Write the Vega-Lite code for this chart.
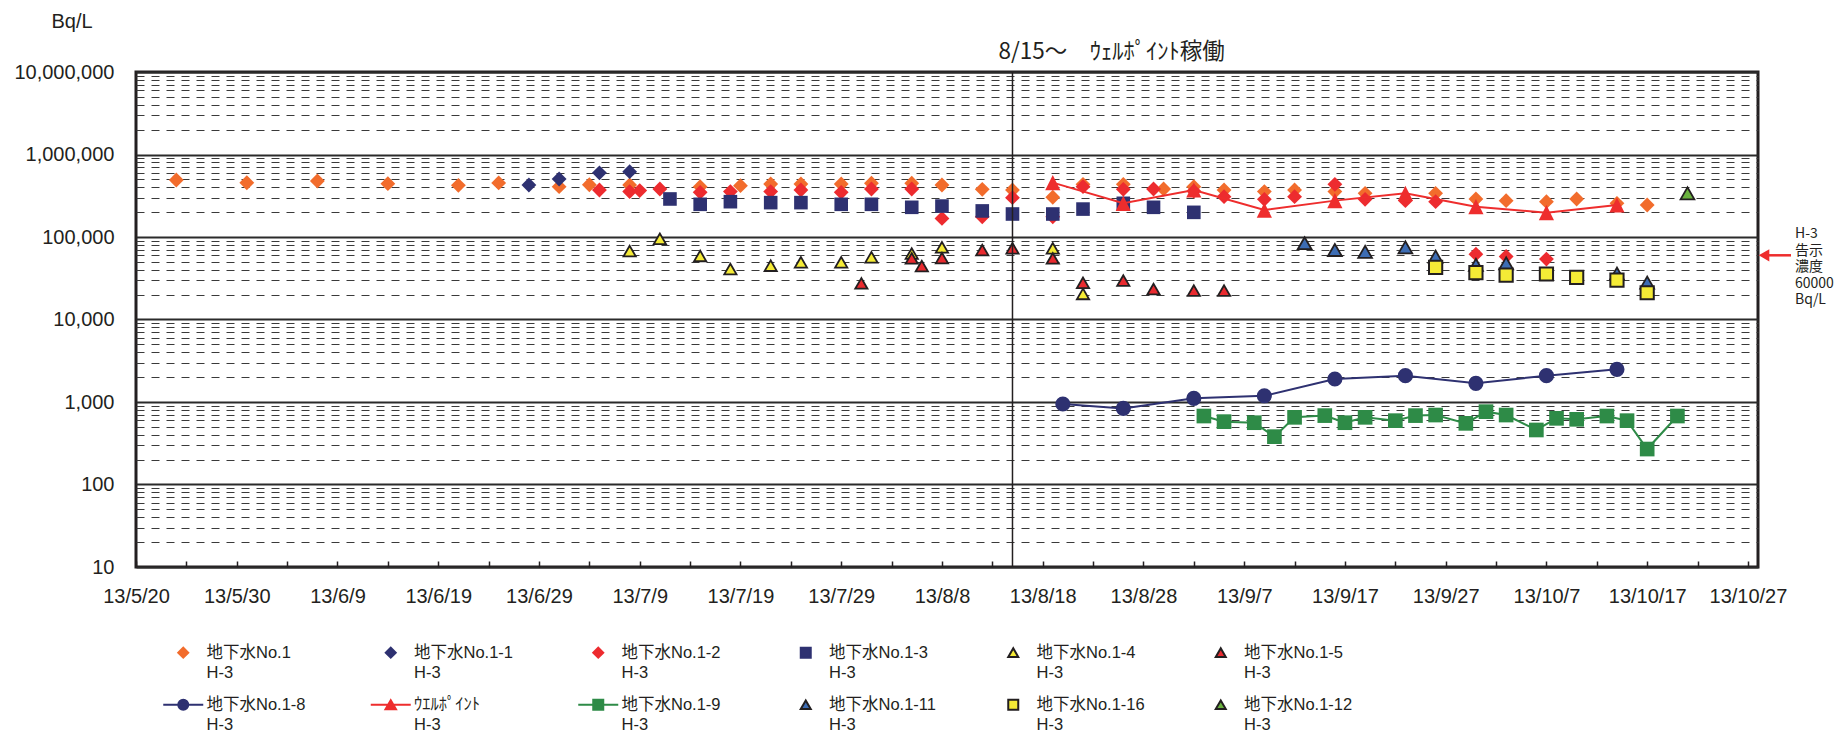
{
  "$schema": "https://vega.github.io/schema/vega-lite/v6.json",
  "autosize": "none",
  "width": 1622,
  "height": 495,
  "padding": {"left": 136, "top": 72, "right": 79, "bottom": 168},
  "background": "white",
  "config": {
    "view": {"stroke": "#231F20", "strokeWidth": 3},
    "axis": {"labelFont": "Liberation Sans", "titleFont": "Liberation Sans", "labelColor": "#231F20", "titleColor": "#231F20"},
    "style": {"guide-label": {"lineHeight": 20.5}}
  },
  "datasets": {
    "main": [
      {"s":"地下水No.1","d":"2013-05-24","v":491000},
      {"s":"地下水No.1","d":"2013-05-31","v":455000},
      {"s":"地下水No.1","d":"2013-06-07","v":477000},
      {"s":"地下水No.1","d":"2013-06-14","v":443000},
      {"s":"地下水No.1","d":"2013-06-21","v":423000},
      {"s":"地下水No.1","d":"2013-06-25","v":452000},
      {"s":"地下水No.1","d":"2013-07-01","v":407000},
      {"s":"地下水No.1","d":"2013-07-04","v":430000},
      {"s":"地下水No.1","d":"2013-07-08","v":427000},
      {"s":"地下水No.1","d":"2013-07-15","v":407000},
      {"s":"地下水No.1","d":"2013-07-19","v":419000},
      {"s":"地下水No.1","d":"2013-07-22","v":439000},
      {"s":"地下水No.1","d":"2013-07-25","v":439000},
      {"s":"地下水No.1","d":"2013-07-29","v":439000},
      {"s":"地下水No.1","d":"2013-08-01","v":448000},
      {"s":"地下水No.1","d":"2013-08-05","v":448000},
      {"s":"地下水No.1","d":"2013-08-08","v":427000},
      {"s":"地下水No.1","d":"2013-08-12","v":378000},
      {"s":"地下水No.1","d":"2013-08-15","v":371000},
      {"s":"地下水No.1","d":"2013-08-19","v":303000},
      {"s":"地下水No.1","d":"2013-08-22","v":435000},
      {"s":"地下水No.1","d":"2013-08-26","v":435000},
      {"s":"地下水No.1","d":"2013-08-30","v":382000},
      {"s":"地下水No.1","d":"2013-09-02","v":407000},
      {"s":"地下水No.1","d":"2013-09-05","v":371000},
      {"s":"地下水No.1","d":"2013-09-09","v":355000},
      {"s":"地下水No.1","d":"2013-09-12","v":371000},
      {"s":"地下水No.1","d":"2013-09-16","v":355000},
      {"s":"地下水No.1","d":"2013-09-19","v":338000},
      {"s":"地下水No.1","d":"2013-09-26","v":338000},
      {"s":"地下水No.1","d":"2013-09-30","v":289000},
      {"s":"地下水No.1","d":"2013-10-03","v":276000},
      {"s":"地下水No.1","d":"2013-10-07","v":268000},
      {"s":"地下水No.1","d":"2013-10-10","v":289000},
      {"s":"地下水No.1","d":"2013-10-14","v":256000},
      {"s":"地下水No.1","d":"2013-10-17","v":244000},
      {"s":"地下水No.1-1","d":"2013-06-28","v":427000},
      {"s":"地下水No.1-1","d":"2013-07-01","v":505000},
      {"s":"地下水No.1-1","d":"2013-07-05","v":600000},
      {"s":"地下水No.1-1","d":"2013-07-08","v":619000},
      {"s":"地下水No.1-2","d":"2013-07-05","v":371000},
      {"s":"地下水No.1-2","d":"2013-07-08","v":355000},
      {"s":"地下水No.1-2","d":"2013-07-09","v":365000},
      {"s":"地下水No.1-2","d":"2013-07-11","v":382000},
      {"s":"地下水No.1-2","d":"2013-07-15","v":348000},
      {"s":"地下水No.1-2","d":"2013-07-18","v":355000},
      {"s":"地下水No.1-2","d":"2013-07-22","v":355000},
      {"s":"地下水No.1-2","d":"2013-07-25","v":371000},
      {"s":"地下水No.1-2","d":"2013-07-29","v":348000},
      {"s":"地下水No.1-2","d":"2013-08-01","v":382000},
      {"s":"地下水No.1-2","d":"2013-08-05","v":382000},
      {"s":"地下水No.1-2","d":"2013-08-08","v":168000},
      {"s":"地下水No.1-2","d":"2013-08-12","v":176000},
      {"s":"地下水No.1-2","d":"2013-08-15","v":300000},
      {"s":"地下水No.1-2","d":"2013-08-19","v":176000},
      {"s":"地下水No.1-2","d":"2013-08-22","v":407000},
      {"s":"地下水No.1-2","d":"2013-08-26","v":378000},
      {"s":"地下水No.1-2","d":"2013-08-29","v":382000},
      {"s":"地下水No.1-2","d":"2013-09-02","v":360000},
      {"s":"地下水No.1-2","d":"2013-09-05","v":308000},
      {"s":"地下水No.1-2","d":"2013-09-09","v":286000},
      {"s":"地下水No.1-2","d":"2013-09-12","v":308000},
      {"s":"地下水No.1-2","d":"2013-09-16","v":435000},
      {"s":"地下水No.1-2","d":"2013-09-19","v":286000},
      {"s":"地下水No.1-2","d":"2013-09-23","v":276000},
      {"s":"地下水No.1-2","d":"2013-09-26","v":268000},
      {"s":"地下水No.1-2","d":"2013-09-30","v":62000},
      {"s":"地下水No.1-2","d":"2013-10-03","v":58000},
      {"s":"地下水No.1-2","d":"2013-10-07","v":54000},
      {"s":"地下水No.1-3","d":"2013-07-12","v":289000},
      {"s":"地下水No.1-3","d":"2013-07-15","v":249000},
      {"s":"地下水No.1-3","d":"2013-07-18","v":268000},
      {"s":"地下水No.1-3","d":"2013-07-22","v":261000},
      {"s":"地下水No.1-3","d":"2013-07-25","v":261000},
      {"s":"地下水No.1-3","d":"2013-07-29","v":249000},
      {"s":"地下水No.1-3","d":"2013-08-01","v":249000},
      {"s":"地下水No.1-3","d":"2013-08-05","v":229000},
      {"s":"地下水No.1-3","d":"2013-08-08","v":237000},
      {"s":"地下水No.1-3","d":"2013-08-12","v":207000},
      {"s":"地下水No.1-3","d":"2013-08-15","v":190000},
      {"s":"地下水No.1-3","d":"2013-08-19","v":190000},
      {"s":"地下水No.1-3","d":"2013-08-22","v":218000},
      {"s":"地下水No.1-3","d":"2013-08-26","v":256000},
      {"s":"地下水No.1-3","d":"2013-08-29","v":229000},
      {"s":"地下水No.1-3","d":"2013-09-02","v":199000},
      {"s":"地下水No.1-4","d":"2013-07-08","v":67600},
      {"s":"地下水No.1-4","d":"2013-07-11","v":95000},
      {"s":"地下水No.1-4","d":"2013-07-15","v":58900},
      {"s":"地下水No.1-4","d":"2013-07-18","v":40900},
      {"s":"地下水No.1-4","d":"2013-07-22","v":44900},
      {"s":"地下水No.1-4","d":"2013-07-25","v":49300},
      {"s":"地下水No.1-4","d":"2013-07-29","v":49300},
      {"s":"地下水No.1-4","d":"2013-08-01","v":56800},
      {"s":"地下水No.1-4","d":"2013-08-05","v":63000},
      {"s":"地下水No.1-4","d":"2013-08-08","v":75000},
      {"s":"地下水No.1-4","d":"2013-08-19","v":73000},
      {"s":"地下水No.1-4","d":"2013-08-22","v":20400},
      {"s":"地下水No.1-5","d":"2013-07-31","v":27400},
      {"s":"地下水No.1-5","d":"2013-08-05","v":55000},
      {"s":"地下水No.1-5","d":"2013-08-06","v":44500},
      {"s":"地下水No.1-5","d":"2013-08-08","v":55600},
      {"s":"地下水No.1-5","d":"2013-08-12","v":69500},
      {"s":"地下水No.1-5","d":"2013-08-15","v":73000},
      {"s":"地下水No.1-5","d":"2013-08-19","v":55000},
      {"s":"地下水No.1-5","d":"2013-08-22","v":27900},
      {"s":"地下水No.1-5","d":"2013-08-26","v":29600},
      {"s":"地下水No.1-5","d":"2013-08-29","v":23400},
      {"s":"地下水No.1-5","d":"2013-09-02","v":22400},
      {"s":"地下水No.1-5","d":"2013-09-05","v":22400},
      {"s":"地下水No.1-8","d":"2013-08-20","v":946},
      {"s":"地下水No.1-8","d":"2013-08-26","v":837},
      {"s":"地下水No.1-8","d":"2013-09-02","v":1107},
      {"s":"地下水No.1-8","d":"2013-09-09","v":1190},
      {"s":"地下水No.1-8","d":"2013-09-16","v":1900},
      {"s":"地下水No.1-8","d":"2013-09-23","v":2085},
      {"s":"地下水No.1-8","d":"2013-09-30","v":1683},
      {"s":"地下水No.1-8","d":"2013-10-07","v":2085},
      {"s":"地下水No.1-8","d":"2013-10-14","v":2489},
      {"s":"ｳｴﾙﾎﾟｲﾝﾄ","d":"2013-08-19","v":456000},
      {"s":"ｳｴﾙﾎﾟｲﾝﾄ","d":"2013-08-26","v":256000},
      {"s":"ｳｴﾙﾎﾟｲﾝﾄ","d":"2013-09-02","v":371000},
      {"s":"ｳｴﾙﾎﾟｲﾝﾄ","d":"2013-09-09","v":212000},
      {"s":"ｳｴﾙﾎﾟｲﾝﾄ","d":"2013-09-16","v":276000},
      {"s":"ｳｴﾙﾎﾟｲﾝﾄ","d":"2013-09-23","v":338000},
      {"s":"ｳｴﾙﾎﾟｲﾝﾄ","d":"2013-09-30","v":233000},
      {"s":"ｳｴﾙﾎﾟｲﾝﾄ","d":"2013-10-07","v":197000},
      {"s":"ｳｴﾙﾎﾟｲﾝﾄ","d":"2013-10-14","v":244000},
      {"s":"地下水No.1-9","d":"2013-09-03","v":676},
      {"s":"地下水No.1-9","d":"2013-09-05","v":578},
      {"s":"地下水No.1-9","d":"2013-09-08","v":561},
      {"s":"地下水No.1-9","d":"2013-09-10","v":380},
      {"s":"地下水No.1-9","d":"2013-09-12","v":652},
      {"s":"地下水No.1-9","d":"2013-09-15","v":684},
      {"s":"地下水No.1-9","d":"2013-09-17","v":561},
      {"s":"地下水No.1-9","d":"2013-09-19","v":652},
      {"s":"地下水No.1-9","d":"2013-09-22","v":594},
      {"s":"地下水No.1-9","d":"2013-09-24","v":684},
      {"s":"地下水No.1-9","d":"2013-09-26","v":695},
      {"s":"地下水No.1-9","d":"2013-09-29","v":551},
      {"s":"地下水No.1-9","d":"2013-10-01","v":764},
      {"s":"地下水No.1-9","d":"2013-10-03","v":695},
      {"s":"地下水No.1-9","d":"2013-10-06","v":458},
      {"s":"地下水No.1-9","d":"2013-10-08","v":634},
      {"s":"地下水No.1-9","d":"2013-10-10","v":617},
      {"s":"地下水No.1-9","d":"2013-10-13","v":676},
      {"s":"地下水No.1-9","d":"2013-10-15","v":594},
      {"s":"地下水No.1-9","d":"2013-10-17","v":269},
      {"s":"地下水No.1-9","d":"2013-10-20","v":676},
      {"s":"地下水No.1-11","d":"2013-09-13","v":84000},
      {"s":"地下水No.1-11","d":"2013-09-16","v":69500},
      {"s":"地下水No.1-11","d":"2013-09-19","v":66000},
      {"s":"地下水No.1-11","d":"2013-09-23","v":75000},
      {"s":"地下水No.1-11","d":"2013-09-26","v":57800},
      {"s":"地下水No.1-11","d":"2013-09-30","v":46000},
      {"s":"地下水No.1-11","d":"2013-10-03","v":48000},
      {"s":"地下水No.1-11","d":"2013-10-14","v":36000},
      {"s":"地下水No.1-11","d":"2013-10-17","v":28000},
      {"s":"地下水No.1-16","d":"2013-09-26","v":42900},
      {"s":"地下水No.1-16","d":"2013-09-30","v":37000},
      {"s":"地下水No.1-16","d":"2013-10-03","v":34600},
      {"s":"地下水No.1-16","d":"2013-10-07","v":35600},
      {"s":"地下水No.1-16","d":"2013-10-10","v":32400},
      {"s":"地下水No.1-16","d":"2013-10-14","v":30100},
      {"s":"地下水No.1-16","d":"2013-10-17","v":21100},
      {"s":"地下水No.1-12","d":"2013-10-21","v":338000}
    ],
    "event": [{"d":"2013-08-15","label":"8/15～　ｳｪﾙﾎﾟｲﾝﾄ稼働"}],
    "limit": [{"d":"2013-10-28","v":60000,"label":"H-3\n告示\n濃度\n60000\nBq/L"}]
  },
  "layer": [
    {
      "data": {"name": "main"},
      "transform": [{"filter": "false"}],
      "mark": {"type": "point", "filled": true, "opacity": 1},
      "encoding": {
        "x": {
          "field": "d", "type": "temporal",
          "scale": {"type": "utc", "nice": false, "domain": [{"year":2013,"month":5,"date":20,"utc":true},{"year":2013,"month":10,"date":28,"utc":true}]},
          "axis": {
            "values": [
              {"year":2013,"month":5,"date":20,"utc":true},{"year":2013,"month":5,"date":25,"utc":true},{"year":2013,"month":5,"date":30,"utc":true},
              {"year":2013,"month":6,"date":4,"utc":true},{"year":2013,"month":6,"date":9,"utc":true},{"year":2013,"month":6,"date":14,"utc":true},
              {"year":2013,"month":6,"date":19,"utc":true},{"year":2013,"month":6,"date":24,"utc":true},{"year":2013,"month":6,"date":29,"utc":true},
              {"year":2013,"month":7,"date":4,"utc":true},{"year":2013,"month":7,"date":9,"utc":true},{"year":2013,"month":7,"date":14,"utc":true},
              {"year":2013,"month":7,"date":19,"utc":true},{"year":2013,"month":7,"date":24,"utc":true},{"year":2013,"month":7,"date":29,"utc":true},
              {"year":2013,"month":8,"date":3,"utc":true},{"year":2013,"month":8,"date":8,"utc":true},{"year":2013,"month":8,"date":13,"utc":true},
              {"year":2013,"month":8,"date":18,"utc":true},{"year":2013,"month":8,"date":23,"utc":true},{"year":2013,"month":8,"date":28,"utc":true},
              {"year":2013,"month":9,"date":2,"utc":true},{"year":2013,"month":9,"date":7,"utc":true},{"year":2013,"month":9,"date":12,"utc":true},
              {"year":2013,"month":9,"date":17,"utc":true},{"year":2013,"month":9,"date":22,"utc":true},{"year":2013,"month":9,"date":27,"utc":true},
              {"year":2013,"month":10,"date":2,"utc":true},{"year":2013,"month":10,"date":7,"utc":true},{"year":2013,"month":10,"date":12,"utc":true},
              {"year":2013,"month":10,"date":17,"utc":true},{"year":2013,"month":10,"date":22,"utc":true},{"year":2013,"month":10,"date":27,"utc":true}
            ],
            "labelExpr": "round((datum.value - utc(2013,4,20))/864e5) % 10 === 0 ? utcFormat(datum.value, '%y/%-m/%-d') : ''",
            "grid": false, "domain": false, "ticks": true,
            "tickSize": -6, "tickWidth": 1.5, "tickColor": "#231F20",
            "labelFontSize": 20, "labelPadding": 25,
            "labelFlush": false, "labelOverlap": false, "labelBound": false,
            "title": null
          }
        },
        "y": {
          "field": "v", "type": "quantitative",
          "scale": {"type": "log", "domain": [10, 10000000], "nice": false},
          "axis": {
            "values": [10,20,30,40,50,60,70,80,90,100,200,300,400,500,600,700,800,900,1000,2000,3000,4000,5000,6000,7000,8000,9000,10000,20000,30000,40000,50000,60000,70000,80000,90000,100000,200000,300000,400000,500000,600000,700000,800000,900000,1000000,2000000,3000000,4000000,5000000,6000000,7000000,8000000,9000000,10000000],
            "labelExpr": "indexof([10,100,1000,10000,100000,1000000,10000000], datum.value) >= 0 ? format(datum.value, ',') : ''",
            "grid": true,
            "gridColor": {"condition": {"test": "indexof([10,100,1000,10000,100000,1000000,10000000], datum.value) >= 0", "value": "#2b2b2b"}, "value": "#3a3a3a"},
            "gridWidth": {"condition": {"test": "indexof([10,100,1000,10000,100000,1000000,10000000], datum.value) >= 0", "value": 2}, "value": 1},
            "gridDash": {"condition": {"test": "indexof([10,100,1000,10000,100000,1000000,10000000], datum.value) >= 0", "value": []}, "value": [8, 7]},
            "ticks": false, "domain": false,
            "labelFontSize": 20, "labelPadding": 22, "labelOverlap": false,
            "title": "Bq/L", "titleAngle": 0, "titleAlign": "left", "titleBaseline": "alphabetic",
            "titleX": -85, "titleY": -45, "titleFontSize": 20, "titleFontWeight": "normal"
          }
        },
        "color": {
          "field": "s", "type": "nominal",
          "scale": {
            "domain": ["地下水No.1","地下水No.1-1","地下水No.1-2","地下水No.1-3","地下水No.1-4","地下水No.1-5","地下水No.1-8","ｳｴﾙﾎﾟｲﾝﾄ","地下水No.1-9","地下水No.1-11","地下水No.1-16","地下水No.1-12"],
            "range": ["#F26C2C","#2E3171","#ED2B2F","#2E3171","#F5EB36","#E92A2F","#2E3171","#EE2D2D","#2E8B47","#3D6DB4","#F5EB36","#6AB23E"]
          },
          "legend": {
            "title": null, "orient": "none", "legendX": 39, "legendY": 572,
            "direction": "horizontal", "columns": 6, "gridAlign": "all",
            "columnPadding": 51.5, "rowPadding": 13.5,
            "symbolSize": 100, "symbolStrokeWidth": 2,
            "labelFont": "Liberation Sans, Noto Sans CJK JP", "labelFontSize": 16.5, "labelColor": "#231F20",
            "labelOffset": 15, "labelLimit": 220,
            "labelExpr": "[datum.label, 'H-3']"
          }
        },
        "stroke": {
          "field": "s", "type": "nominal",
          "scale": {
            "domain": ["地下水No.1","地下水No.1-1","地下水No.1-2","地下水No.1-3","地下水No.1-4","地下水No.1-5","地下水No.1-8","ｳｴﾙﾎﾟｲﾝﾄ","地下水No.1-9","地下水No.1-11","地下水No.1-16","地下水No.1-12"],
            "range": ["#F26C2C","#2E3171","#ED2B2F","#2E3171","#231F20","#231F20","#2E3171","#EE2D2D","#2E8B47","#231F20","#231F20","#231F20"]
          },
          "legend": {
            "title": null, "orient": "none", "legendX": 39, "legendY": 572,
            "direction": "horizontal", "columns": 6, "gridAlign": "all",
            "columnPadding": 51.5, "rowPadding": 13.5,
            "symbolSize": 100, "symbolStrokeWidth": 2,
            "labelFont": "Liberation Sans, Noto Sans CJK JP", "labelFontSize": 16.5, "labelColor": "#231F20",
            "labelOffset": 15, "labelLimit": 220,
            "labelExpr": "[datum.label, 'H-3']"
          }
        },
        "shape": {
          "field": "s", "type": "nominal",
          "scale": {
            "domain": ["地下水No.1","地下水No.1-1","地下水No.1-2","地下水No.1-3","地下水No.1-4","地下水No.1-5","地下水No.1-8","ｳｴﾙﾎﾟｲﾝﾄ","地下水No.1-9","地下水No.1-11","地下水No.1-16","地下水No.1-12"],
            "range": ["diamond","diamond","diamond","square","triangle-up","triangle-up",
              "M-4,0L4,0M1,0A1,1,0,1,1,-1,0A1,1,0,1,1,1,0Z",
              "M-4,0L4,0M0,-0.9L1.05,0.9L-1.05,0.9Z",
              "M-4,0L4,0M-1,-1L1,-1L1,1L-1,1Z",
              "triangle-up","square","triangle-up"]
          },
          "legend": {
            "title": null, "orient": "none", "legendX": 39, "legendY": 572,
            "direction": "horizontal", "columns": 6, "gridAlign": "all",
            "columnPadding": 51.5, "rowPadding": 13.5,
            "symbolSize": 100, "symbolStrokeWidth": 2,
            "labelFont": "Liberation Sans, Noto Sans CJK JP", "labelFontSize": 16.5, "labelColor": "#231F20",
            "labelOffset": 15, "labelLimit": 220,
            "labelExpr": "[datum.label, 'H-3']"
          }
        }
      }
    },
    {
      "data": {"name": "main"},
      "transform": [{"filter": {"field": "s", "oneOf": ["地下水No.1","地下水No.1-1","地下水No.1-2"]}}],
      "mark": {"type": "point", "shape": "diamond", "filled": true, "opacity": 1, "size": 220, "strokeWidth": 0},
      "encoding": {
        "x": {"field": "d", "type": "temporal"},
        "y": {"field": "v", "type": "quantitative"},
        "color": {"field": "s", "type": "nominal", "legend": null}
      }
    },
    {
      "data": {"name": "main"},
      "transform": [{"filter": {"field": "s", "equal": "地下水No.1-3"}}],
      "mark": {"type": "point", "shape": "square", "filled": true, "opacity": 1, "size": 185, "strokeWidth": 0},
      "encoding": {
        "x": {"field": "d", "type": "temporal"},
        "y": {"field": "v", "type": "quantitative"},
        "color": {"field": "s", "type": "nominal", "legend": null}
      }
    },
    {
      "data": {"name": "main"},
      "transform": [{"filter": {"field": "s", "oneOf": ["地下水No.1-4","地下水No.1-5"]}}],
      "mark": {"type": "point", "shape": "triangle-up", "filled": true, "opacity": 1, "size": 150, "strokeWidth": 1.8},
      "encoding": {
        "x": {"field": "d", "type": "temporal"},
        "y": {"field": "v", "type": "quantitative"},
        "color": {"field": "s", "type": "nominal", "legend": null},
        "stroke": {"field": "s", "type": "nominal", "legend": null}
      }
    },
    {
      "data": {"name": "main"},
      "transform": [{"filter": {"field": "s", "oneOf": ["地下水No.1-8","ｳｴﾙﾎﾟｲﾝﾄ","地下水No.1-9"]}}],
      "mark": {"type": "line", "strokeWidth": 2},
      "encoding": {
        "x": {"field": "d", "type": "temporal"},
        "y": {"field": "v", "type": "quantitative"},
        "stroke": {"field": "s", "type": "nominal", "legend": null}
      }
    },
    {
      "data": {"name": "main"},
      "transform": [{"filter": {"field": "s", "equal": "地下水No.1-8"}}],
      "mark": {"type": "point", "shape": "circle", "filled": true, "opacity": 1, "size": 230, "strokeWidth": 0},
      "encoding": {
        "x": {"field": "d", "type": "temporal"},
        "y": {"field": "v", "type": "quantitative"},
        "color": {"field": "s", "type": "nominal", "legend": null}
      }
    },
    {
      "data": {"name": "main"},
      "transform": [{"filter": {"field": "s", "equal": "ｳｴﾙﾎﾟｲﾝﾄ"}}],
      "mark": {"type": "point", "shape": "M0,-1L1,1L-1,1Z", "filled": true, "opacity": 1, "size": 230, "strokeWidth": 0},
      "encoding": {
        "x": {"field": "d", "type": "temporal"},
        "y": {"field": "v", "type": "quantitative"},
        "color": {"field": "s", "type": "nominal", "legend": null}
      }
    },
    {
      "data": {"name": "main"},
      "transform": [{"filter": {"field": "s", "equal": "地下水No.1-9"}}],
      "mark": {"type": "point", "shape": "square", "filled": true, "opacity": 1, "size": 215, "strokeWidth": 0},
      "encoding": {
        "x": {"field": "d", "type": "temporal"},
        "y": {"field": "v", "type": "quantitative"},
        "color": {"field": "s", "type": "nominal", "legend": null}
      }
    },
    {
      "data": {"name": "main"},
      "transform": [{"filter": {"field": "s", "equal": "地下水No.1-11"}}],
      "mark": {"type": "point", "shape": "triangle-up", "filled": true, "opacity": 1, "size": 190, "strokeWidth": 1.8},
      "encoding": {
        "x": {"field": "d", "type": "temporal"},
        "y": {"field": "v", "type": "quantitative"},
        "color": {"field": "s", "type": "nominal", "legend": null},
        "stroke": {"field": "s", "type": "nominal", "legend": null}
      }
    },
    {
      "data": {"name": "main"},
      "transform": [{"filter": {"field": "s", "equal": "地下水No.1-16"}}],
      "mark": {"type": "point", "shape": "square", "filled": true, "opacity": 1, "size": 175, "strokeWidth": 2},
      "encoding": {
        "x": {"field": "d", "type": "temporal"},
        "y": {"field": "v", "type": "quantitative"},
        "color": {"field": "s", "type": "nominal", "legend": null},
        "stroke": {"field": "s", "type": "nominal", "legend": null}
      }
    },
    {
      "data": {"name": "main"},
      "transform": [{"filter": {"field": "s", "equal": "地下水No.1-12"}}],
      "mark": {"type": "point", "shape": "triangle-up", "filled": true, "opacity": 1, "size": 190, "strokeWidth": 1.8},
      "encoding": {
        "x": {"field": "d", "type": "temporal"},
        "y": {"field": "v", "type": "quantitative"},
        "color": {"field": "s", "type": "nominal", "legend": null},
        "stroke": {"field": "s", "type": "nominal", "legend": null}
      }
    },
    {
      "data": {"name": "event"},
      "mark": {"type": "rule", "color": "#231F20", "strokeWidth": 1.5},
      "encoding": {
        "x": {"field": "d", "type": "temporal"}
      }
    },
    {
      "data": {"name": "event"},
      "mark": {"type": "text", "align": "left", "baseline": "middle", "dx": -14, "dy": -20, "font": "Noto Sans CJK JP", "fontSize": 22.5, "color": "#231F20"},
      "encoding": {
        "x": {"field": "d", "type": "temporal"},
        "y": {"datum": 10000000, "type": "quantitative"},
        "text": {"field": "label"}
      }
    },
    {
      "data": {"name": "limit"},
      "mark": {"type": "rule", "color": "#EE2D2D", "strokeWidth": 2.5, "xOffset": 6, "x2Offset": 33},
      "encoding": {
        "x": {"field": "d", "type": "temporal"},
        "x2": {"field": "d"},
        "y": {"field": "v", "type": "quantitative"}
      }
    },
    {
      "data": {"name": "limit"},
      "mark": {"type": "point", "shape": "triangle-left", "filled": true, "opacity": 1, "size": 150, "color": "#EE2D2D", "strokeWidth": 0, "xOffset": 6},
      "encoding": {
        "x": {"field": "d", "type": "temporal"},
        "y": {"field": "v", "type": "quantitative"}
      }
    },
    {
      "data": {"name": "limit"},
      "mark": {"type": "text", "align": "left", "baseline": "middle", "dx": 37, "dy": -21, "lineBreak": "\n", "lineHeight": 16.5, "font": "Noto Sans CJK JP", "fontSize": 14, "color": "#231F20"},
      "encoding": {
        "x": {"field": "d", "type": "temporal"},
        "y": {"field": "v", "type": "quantitative"},
        "text": {"field": "label"}
      }
    }
  ]
}
